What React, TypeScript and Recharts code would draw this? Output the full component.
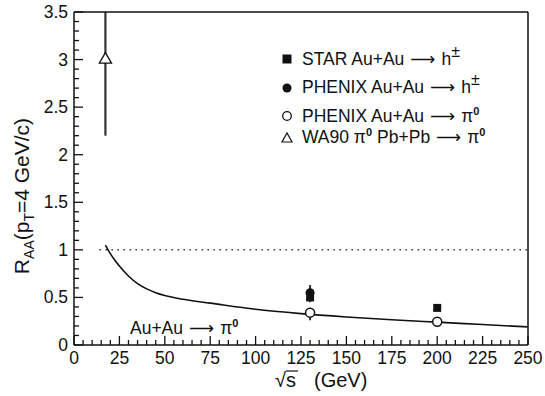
import React from 'react';
import {
  ComposedChart,
  Line,
  Scatter,
  XAxis,
  YAxis,
  ErrorBar,
  ReferenceLine,
  Customized,
} from 'recharts';

// ---- tick labels ----
const xMajorTicks = [0, 25, 50, 75, 100, 125, 150, 175, 200, 225, 250];
const yMajorTicks = [0, 0.5, 1, 1.5, 2, 2.5, 3, 3.5];
const xAllTicks = Array.from({ length: 51 }, (_, i) => i * 5);
const yAllTicks = Array.from({ length: 36 }, (_, i) => Number((i / 10).toFixed(1)));

// ---- model curve (Au+Au -> pi0) ----
const modelSqrtS = [17.3, 20, 22.5, 25, 27.5, 30, 35, 40, 45, 50, 60, 75, 100, 125, 150, 175, 200, 225, 250];
const modelRaa = [1.05, 0.96, 0.89, 0.83, 0.775, 0.725, 0.645, 0.59, 0.55, 0.52, 0.48, 0.44, 0.375, 0.33, 0.295, 0.265, 0.24, 0.215, 0.19];

// ---- data points ----
const starSqrtS = [130, 200];
const starRaa = [0.5, 0.39];
const starErrLow = [0.04, 0.0];
const starErrHigh = [0.04, 0.0];

const phenixHSqrtS = [130];
const phenixHRaa = [0.55];
const phenixHErrLow = [0.1];
const phenixHErrHigh = [0.08];

const phenixPiSqrtS = [130, 200];
const phenixPiRaa = [0.34, 0.245];
const phenixPiErrLow = [0.08, 0.02];
const phenixPiErrHigh = [0.05, 0.02];

const wa90SqrtS = [17.3];
const wa90Raa = [3.0];
const wa90ErrLow = [0.8];
const wa90ErrHigh = [0.5];

const build = (xs: number[], ys: number[], lo: number[], hi: number[]) =>
  xs.map((x, i) => ({ x, y: ys[i], err: [lo[i], hi[i]] }));

const modelData = modelSqrtS.map((x, i) => ({ x, y: modelRaa[i] }));
const starData = build(starSqrtS, starRaa, starErrLow, starErrHigh);
const phenixHData = build(phenixHSqrtS, phenixHRaa, phenixHErrLow, phenixHErrHigh);
const phenixPiData = build(phenixPiSqrtS, phenixPiRaa, phenixPiErrLow, phenixPiErrHigh);
const wa90Data = build(wa90SqrtS, wa90Raa, wa90ErrLow, wa90ErrHigh);

const FONT = '"Liberation Sans", Arial, Helvetica, sans-serif';
const INK = '#111';

const isMajorX = (v: number) => xMajorTicks.includes(v);
const isMajorY = (v: number) => yMajorTicks.some((t) => Math.abs(t - v) < 1e-6);

const BottomTick = (props: any) => {
  const { x, y, payload } = props;
  const major = isMajorX(payload.value);
  return (
    <g>
      <line x1={x} x2={x} y1={y} y2={y - (major ? 9 : 5)} stroke={INK} strokeWidth={1.3} />
      {major && (
        <text x={x} y={y + 19} textAnchor="middle" fontSize={17.5} fontFamily={FONT} fill={INK}>
          {payload.value}
        </text>
      )}
    </g>
  );
};

const TopTick = (props: any) => {
  const { x, y, payload } = props;
  const major = isMajorX(payload.value);
  return <line x1={x} x2={x} y1={y} y2={y + (major ? 9 : 5)} stroke={INK} strokeWidth={1.3} />;
};

const LeftTick = (props: any) => {
  const { x, y, payload } = props;
  const major = isMajorY(payload.value);
  return (
    <g>
      <line x1={x} x2={x + (major ? 9 : 5)} y1={y} y2={y} stroke={INK} strokeWidth={1.3} />
      {major && (
        <text x={x - 6} y={y + 6} textAnchor="end" fontSize={17.5} fontFamily={FONT} fill={INK}>
          {payload.value}
        </text>
      )}
    </g>
  );
};

const RightTick = (props: any) => {
  const { x, y, payload } = props;
  const major = isMajorY(payload.value);
  return <line x1={x} x2={x - (major ? 9 : 5)} y1={y} y2={y} stroke={INK} strokeWidth={1.3} />;
};

const ARROW_FONT = '"DejaVu Sans", sans-serif';

const Arrow = () => (
  <tspan fontFamily={ARROW_FONT} dx={6}>⟶</tspan>
);

const Annotations = () => {
  const lx = 287;
  const tx = 302;
  const sup = (base: number, s: string, size = 11, bold = true) => (
    <tspan y={base - 7} fontSize={size} fontWeight={bold ? 'bold' : 'normal'}>{s}</tspan>
  );
  return (
    <g fontFamily={FONT} fill={INK}>
      {/* legend */}
      <rect x={lx - 4.5} y={59 - 4.5} width={9} height={9} fill={INK} />
      <text x={tx} y={65} fontSize={17.5}>
        <tspan>STAR Au+Au</tspan>
        <Arrow />
        <tspan dx={6}>h</tspan>
        <tspan y={57} fontSize={16}>±</tspan>
      </text>

      <circle cx={lx} cy={88} r={4.5} fill={INK} />
      <text x={tx} y={93} fontSize={17.5}>
        <tspan>PHENIX Au+Au</tspan>
        <Arrow />
        <tspan dx={6}>h</tspan>
        <tspan y={85} fontSize={16}>±</tspan>
      </text>

      <circle cx={lx} cy={116} r={4.3} fill="#fff" stroke={INK} strokeWidth={1.3} />
      <text x={tx} y={122} fontSize={17.5}>
        <tspan>PHENIX Au+Au</tspan>
        <Arrow />
        <tspan dx={6}>π</tspan>
        {sup(122, '0')}
      </text>

      <path d={`M${lx - 5},${142} L${lx + 5},${142} L${lx},${133} Z`} fill="#fff" stroke={INK} strokeWidth={1.2} />
      <text x={tx} y={143} fontSize={17.5}>
        <tspan>WA90 π</tspan>
        {sup(143, '0')}
        <tspan y={143} dx={5}>Pb+Pb</tspan>
        <Arrow />
        <tspan dx={6}>π</tspan>
        {sup(143, '0')}
      </text>

      {/* curve label */}
      <text x={130} y={334} fontSize={17.5}>
        <tspan>Au+Au</tspan>
        <Arrow />
        <tspan dx={6}>π</tspan>
        {sup(334, '0')}
      </text>

      {/* axis titles */}
      <text x={275} y={387} fontSize={20}>
        <tspan>√s</tspan>
        <tspan x={314}>(GeV)</tspan>
      </text>
      <line x1={286} x2={298} y1={371} y2={371} stroke={INK} strokeWidth={1.2} />
      <text transform="translate(29,196) rotate(-90)" textAnchor="middle" fontSize={21}>
        R<tspan fontSize={14} dy={5}>AA</tspan>
        <tspan dy={-5}>(p</tspan>
        <tspan fontSize={14} dy={5}>T</tspan>
        <tspan dy={-5}>=4 GeV/c)</tspan>
      </text>
    </g>
  );
};

export default function App() {
  return (
    <div style={{ position: 'absolute', left: 0, top: 0, width: 545, height: 396, background: '#fff' }}>
      <ComposedChart
        width={545}
        height={396}
        margin={{ top: 11, right: 16, bottom: 0, left: 0 }}
      >
        <XAxis
          dataKey="x"
          type="number"
          domain={[0, 250]}
          ticks={xAllTicks}
          interval={0}
          height={51}
          tickSize={0}
          tickMargin={0}
          tickLine={false}
          tick={<BottomTick />}
          axisLine={{ stroke: INK, strokeWidth: 1.5 }}
        />
        <XAxis
          xAxisId="top"
          orientation="top"
          dataKey="x"
          type="number"
          domain={[0, 250]}
          ticks={xAllTicks}
          interval={0}
          height={1}
          tickSize={0}
          tickMargin={0}
          tickLine={false}
          tick={<TopTick />}
          axisLine={{ stroke: INK, strokeWidth: 1.5 }}
        />
        <YAxis
          dataKey="y"
          type="number"
          domain={[0, 3.5]}
          ticks={yAllTicks}
          interval={0}
          width={74}
          tickSize={0}
          tickMargin={0}
          tickLine={false}
          tick={<LeftTick />}
          axisLine={{ stroke: INK, strokeWidth: 1.5 }}
        />
        <YAxis
          yAxisId="right"
          orientation="right"
          dataKey="y"
          type="number"
          domain={[0, 3.5]}
          ticks={yAllTicks}
          interval={0}
          width={1}
          tickSize={0}
          tickMargin={0}
          tickLine={false}
          tick={<RightTick />}
          axisLine={{ stroke: INK, strokeWidth: 1.5 }}
        />
        <ReferenceLine
          segment={[{ x: 14, y: 1 }, { x: 250, y: 1 }]}
          stroke="#333"
          strokeWidth={1.5}
          strokeDasharray="1.5 4.5"
        />
        <Line
          data={modelData}
          dataKey="y"
          type="monotone"
          stroke={INK}
          strokeWidth={1.6}
          dot={false}
          activeDot={false}
          isAnimationActive={false}
        />
        <Scatter data={wa90Data} dataKey="y" shape="triangle" size={70} fill="#fff" stroke={INK} strokeWidth={1.3} isAnimationActive={false}>
          <ErrorBar dataKey="err" direction="y" width={0} stroke="#333" strokeWidth={2.2} />
        </Scatter>
        <Scatter data={phenixPiData} dataKey="y" shape="circle" size={110} fill="#fff" stroke={INK} strokeWidth={1.5} isAnimationActive={false}>
          <ErrorBar dataKey="err" direction="y" width={0} stroke="#333" strokeWidth={2} />
        </Scatter>
        <Scatter data={phenixHData} dataKey="y" shape="circle" size={85} fill={INK} isAnimationActive={false}>
          <ErrorBar dataKey="err" direction="y" width={0} stroke="#333" strokeWidth={2} />
        </Scatter>
        <Scatter data={starData} dataKey="y" shape="square" size={100} fill={INK} isAnimationActive={false}>
          <ErrorBar dataKey="err" direction="y" width={0} stroke="#333" strokeWidth={2} />
        </Scatter>
        <Customized component={<Annotations />} />
      </ComposedChart>
    </div>
  );
}
